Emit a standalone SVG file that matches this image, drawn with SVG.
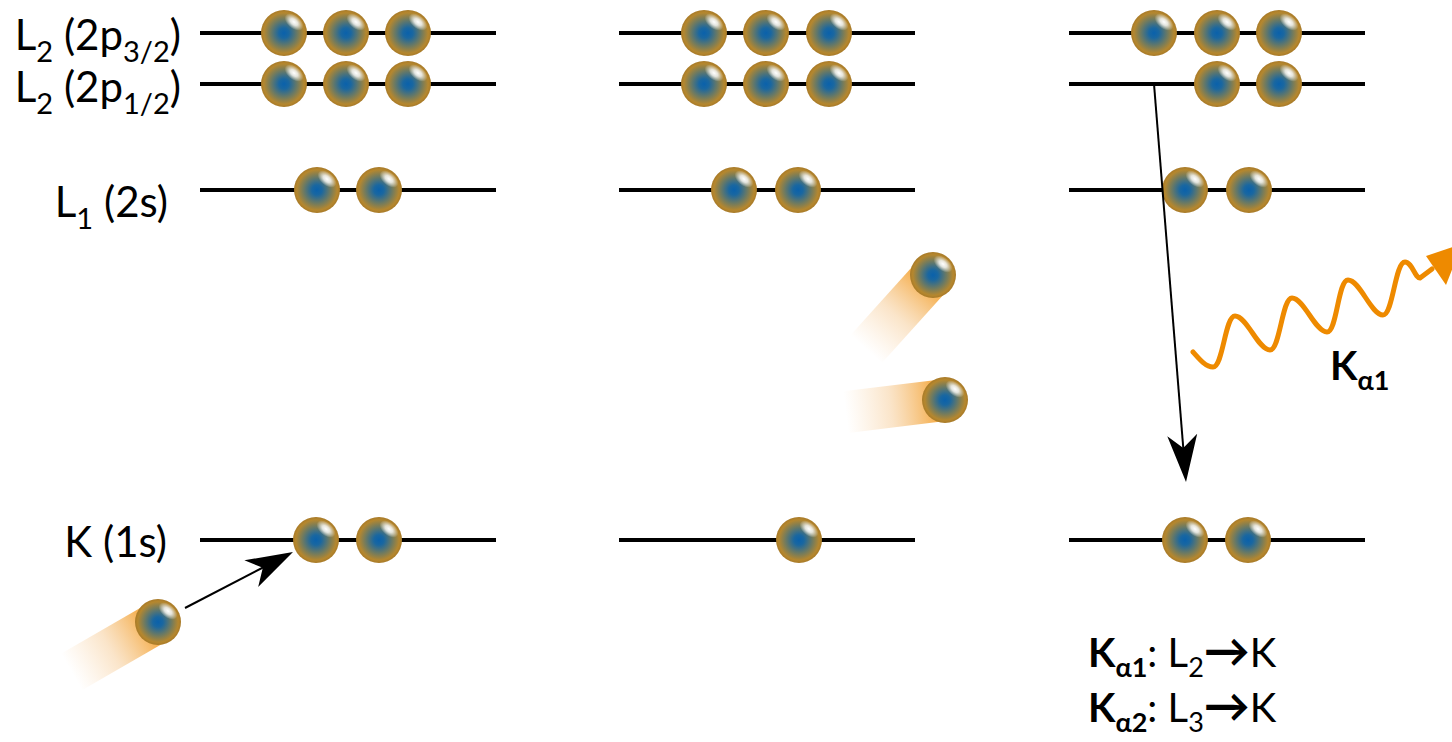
<svg xmlns="http://www.w3.org/2000/svg" xmlns:xlink="http://www.w3.org/1999/xlink" width="1452" height="742" viewBox="0 0 1452 742">
  <style>
    .level { stroke: #000; stroke-width: 4; }
    .label { font-family: "Lato", "Noto Sans", sans-serif; font-size: 42px; fill: #000; }
    .note { font-family: "Lato", "Noto Sans", sans-serif; font-size: 40px; fill: #000; }
    .b { font-weight: bold; }
    .conn { stroke: #000; stroke-width: 2; fill: none; }
    .photon { stroke: #ee8a00; stroke-width: 5; fill: none; stroke-linecap: round; stroke-linejoin: round; }
  </style>
  <defs>
    <radialGradient id="ballFill" cx="50%" cy="50%" r="50%">
      <stop offset="0" stop-color="#0a61ab"/>
      <stop offset="0.22" stop-color="#1a67a0"/>
      <stop offset="0.6" stop-color="#727b5e"/>
      <stop offset="0.88" stop-color="#b5872e"/>
      <stop offset="1" stop-color="#a87a28"/>
    </radialGradient>
    <radialGradient id="shine" cx="50%" cy="50%" r="50%">
      <stop offset="0" stop-color="#fff" stop-opacity="1"/>
      <stop offset="0.4" stop-color="#fff" stop-opacity="0.8"/>
      <stop offset="1" stop-color="#fff" stop-opacity="0"/>
    </radialGradient>
    <linearGradient id="trail" x1="0" y1="0" x2="1" y2="0">
      <stop offset="0" stop-color="#f7c080" stop-opacity="0"/>
      <stop offset="0.45" stop-color="#f2b466" stop-opacity="0.35"/>
      <stop offset="1" stop-color="#f28d00" stop-opacity="0.85"/>
    </linearGradient>
    <!-- electron sphere -->
    <g id="e">
      <circle r="23" fill="url(#ballFill)"/>
      <ellipse cx="10" cy="-11" rx="11" ry="6.5" transform="rotate(40 10 -11)" fill="url(#shine)"/>
    </g>
    <!-- motion blur tail, pointing along -x -->
    <rect id="tail" x="-100" y="-21" width="100" height="42" fill="url(#trail)"/>
    <marker id="head" markerUnits="userSpaceOnUse" viewBox="-50 -20 60 40" markerWidth="60" markerHeight="40" refX="-25" refY="0" orient="auto">
      <path d="M0,0 L-47,-15 L-34,0 L-47,15 Z" fill="#000"/>
    </marker>
  </defs>

  <!-- shell labels -->
  <g id="labels">
    <text class="label" x="181" y="50" text-anchor="end">L<tspan font-size="29" dy="12">2</tspan><tspan dy="-12"> (2p</tspan><tspan font-size="29" dy="12">3/2</tspan><tspan dy="-12">)</tspan></text>
    <text class="label" x="181" y="102" text-anchor="end">L<tspan font-size="29" dy="12">2</tspan><tspan dy="-12"> (2p</tspan><tspan font-size="29" dy="12">1/2</tspan><tspan dy="-12">)</tspan></text>
    <text class="label" x="168" y="217" text-anchor="end">L<tspan font-size="29" dy="12">1</tspan><tspan dy="-12"> (2s)</tspan></text>
    <text class="label" x="167" y="557" text-anchor="end">K (1s)</text>
  </g>

  <!-- panel 1: incoming electron -->
  <g id="panel1">
    <g id="p1-levels">
      <line class="level" x1="200" y1="33" x2="496" y2="33"/>
      <line class="level" x1="200" y1="84" x2="496" y2="84"/>
      <line class="level" x1="200" y1="190" x2="496" y2="190"/>
      <line class="level" x1="200" y1="540" x2="496" y2="540"/>
    </g>
    <g id="p1-electrons">
      <use xlink:href="#e" x="284" y="33"/><use xlink:href="#e" x="346" y="33"/><use xlink:href="#e" x="408" y="33"/>
      <use xlink:href="#e" x="284" y="84"/><use xlink:href="#e" x="346" y="84"/><use xlink:href="#e" x="408" y="84"/>
      <use xlink:href="#e" x="317" y="190"/><use xlink:href="#e" x="379" y="190"/>
      <use xlink:href="#e" x="316" y="540"/><use xlink:href="#e" x="379" y="540"/>
    </g>
    <g id="p1-incoming">
      <use xlink:href="#tail" transform="translate(158,622) rotate(-30)"/>
      <use xlink:href="#e" x="158" y="622"/>
    </g>
  </g>

  <!-- panel 2: K vacancy, ejected electrons -->
  <g id="panel2">
    <g id="p2-levels">
      <line class="level" x1="619" y1="33" x2="915" y2="33"/>
      <line class="level" x1="619" y1="84" x2="915" y2="84"/>
      <line class="level" x1="619" y1="190" x2="915" y2="190"/>
      <line class="level" x1="619" y1="540" x2="915" y2="540"/>
    </g>
    <g id="p2-electrons">
      <use xlink:href="#e" x="704" y="33"/><use xlink:href="#e" x="766" y="33"/><use xlink:href="#e" x="829" y="33"/>
      <use xlink:href="#e" x="704" y="84"/><use xlink:href="#e" x="766" y="84"/><use xlink:href="#e" x="829" y="84"/>
      <use xlink:href="#e" x="734" y="190"/><use xlink:href="#e" x="798" y="190"/>
      <use xlink:href="#e" x="799" y="540"/>
    </g>
    <g id="p2-ejected">
      <use xlink:href="#tail" transform="translate(933,275) rotate(-48)"/>
      <use xlink:href="#e" x="933" y="275"/>
      <use xlink:href="#tail" transform="translate(945,400) rotate(-7)"/>
      <use xlink:href="#e" x="945" y="400"/>
    </g>
  </g>

  <!-- panel 3: L2 to K relaxation -->
  <g id="panel3">
    <g id="p3-levels">
      <line class="level" x1="1069" y1="33" x2="1365" y2="33"/>
      <line class="level" x1="1069" y1="84" x2="1365" y2="84"/>
      <line class="level" x1="1069" y1="190" x2="1365" y2="190"/>
      <line class="level" x1="1069" y1="540" x2="1365" y2="540"/>
    </g>
    <g id="p3-electrons">
      <use xlink:href="#e" x="1154" y="33"/><use xlink:href="#e" x="1217" y="33"/><use xlink:href="#e" x="1279" y="33"/>
      <use xlink:href="#e" x="1217" y="84"/><use xlink:href="#e" x="1279" y="84"/>
      <use xlink:href="#e" x="1185" y="190"/><use xlink:href="#e" x="1249" y="190"/>
      <use xlink:href="#e" x="1185" y="540"/><use xlink:href="#e" x="1248" y="540"/>
    </g>
  </g>

  <!-- connectors -->
  <g id="connectors">
    <line class="conn" x1="185" y1="608" x2="270.8" y2="563.5" marker-end="url(#head)"/>
    <line class="conn" x1="1154" y1="84" x2="1184" y2="457" marker-end="url(#head)"/>
    <path class="photon" d="M1193,352 C1200,360 1206,367 1213,367 C1223,367 1225,316 1235,316 C1247,316 1258,350 1270,350 C1280,350 1282,298 1292,298 C1304,298 1315,332 1327,332 C1337,332 1338,280 1348,280 C1360,280 1371,315 1383,315 C1393,315 1395,262 1405,262 C1412,262 1415,278 1420,278 L1432,269"/>
    <path d="M1426,256 L1462,244 L1446,285 Z" fill="#ee8a00"/>
  </g>

  <!-- line labels -->
  <g id="photon-label">
    <text class="note b" x="1330" y="380" font-size="40">K<tspan font-size="27" dy="10">α1</tspan></text>
  </g>
  <g id="legend">
    <text class="note" x="1088" y="667"><tspan class="b">K</tspan><tspan class="b" font-size="27" dy="10">α1</tspan><tspan dy="-10">: L</tspan><tspan font-size="27" dy="10">2</tspan><tspan class="b" dy="-10" font-size="46">→</tspan>K</text>
    <text class="note" x="1088" y="722"><tspan class="b">K</tspan><tspan class="b" font-size="27" dy="10">α2</tspan><tspan dy="-10">: L</tspan><tspan font-size="27" dy="10">3</tspan><tspan class="b" dy="-10" font-size="46">→</tspan>K</text>
  </g>
</svg>
